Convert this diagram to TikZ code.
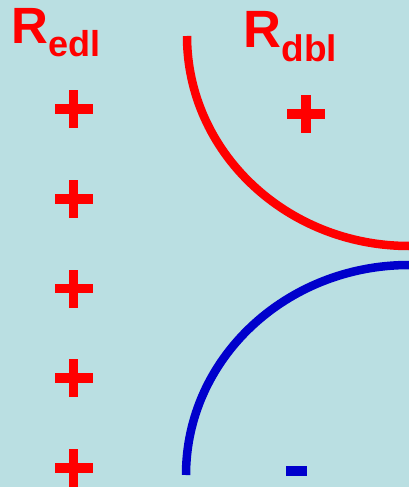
\documentclass[tikz,border=0pt]{standalone}
\usepackage{fontspec}
\setmainfont{Liberation Sans}
\definecolor{bgcyan}{RGB}{186,223,226}
\definecolor{posred}{RGB}{255,0,0}
\definecolor{negblue}{RGB}{0,0,204}
\tikzset{
  layerarc/.style={line width=8.5pt, line cap=butt},
  lbl/.style={anchor=base west, inner sep=0pt, text=posred, font=\bfseries},
}
\newcommand{\plussign}[2]{%
  \fill[posred] (#1-19,#2-4.85) rectangle (#1+19,#2+4.85);
  \fill[posred] (#1-4.85,#2-19) rectangle (#1+4.85,#2+19);
}
\begin{document}
\begin{tikzpicture}[x=1pt,y=-1pt]
  \fill[bgcyan] (0,0) rectangle (409,487);
  \useasboundingbox (0,0) rectangle (409,487);
  % labels
  \node[lbl] (redl) at (11,43.3) {\fontsize{51}{51}\selectfont R\raisebox{-13.4pt}{\fontsize{36}{36}\selectfont edl}};
  \node[lbl] (rdbl) at (243.5,47.7) {\fontsize{52.5}{52.5}\selectfont R\raisebox{-14pt}{\fontsize{37}{37}\selectfont dbl}};
  % plus signs
  \plussign{73.5}{109}
  \plussign{73.5}{199}
  \plussign{73.5}{288.5}
  \plussign{73.5}{378}
  \plussign{73.5}{468}
  \plussign{306}{113.9}
  % minus sign
  \fill[negblue] (286,466) rectangle (307,476);
  % arcs
  \draw[layerarc, posred] (187,36) arc[start angle=180, end angle=270, x radius=222pt, y radius=210pt];
  \draw[layerarc, negblue] (186,475) arc[start angle=180, end angle=90, x radius=223pt, y radius=210pt];
\end{tikzpicture}
\end{document}
